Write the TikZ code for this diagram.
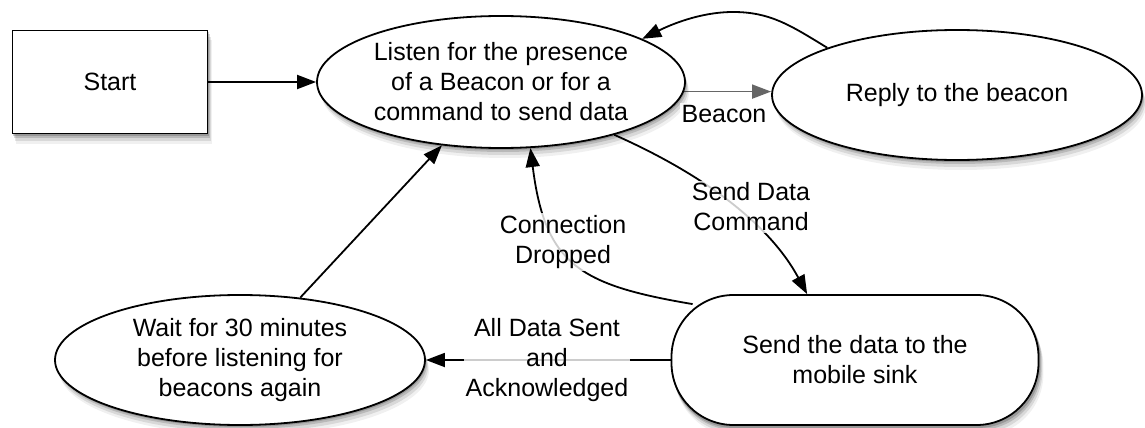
\documentclass[tikz,border=0pt]{standalone}
\usepackage{fontspec}
\setmainfont{Liberation Sans}
\usetikzlibrary{shapes.geometric,arrows.meta,calc}
\pgfdeclarelayer{background}
\pgfdeclarelayer{shadowlayer}
\pgfsetlayers{background,shadowlayer,main}
\begin{document}
\begin{tikzpicture}[x=1pt,y=-1pt,
  every node/.style={font=\fontsize{25}{30}\selectfont, align=center},
  statebox/.style={draw, line width=1.8pt, fill=white, inner sep=0pt},
  oval/.style={statebox, ellipse},
  startbox/.style={statebox, rectangle, minimum width=195pt, minimum height=103pt},
  pill/.style={statebox, rectangle, rounded corners=62pt, minimum width=367pt, minimum height=130pt},
  conn/.style={line width=1.8pt, -{Triangle[length=19pt,width=14pt]}},
  lbl/.style={fill=white, fill opacity=0.8, text opacity=1, inner sep=2pt}
]
\useasboundingbox (0,0) rectangle (1145,428);

\node[startbox] (start) at (110,82) {Start};
\node[oval, minimum width=368pt, minimum height=132pt] (listen) at (501,82)
  {Listen for the presence\\of a Beacon or for a\\command to send data};
\node[oval, minimum width=370pt, minimum height=130pt] (reply) at (957,95)
  {Reply to the beacon};
\node[oval, minimum width=370pt, minimum height=130pt] (wait) at (240,360)
  {Wait for 30 minutes\\before listening for\\beacons again};
\node[pill] (send) at (855,360) {Send the data to the\\mobile sink};

\node[lbl] (lbeacon) at (724,114) {Beacon};
\node[lbl] (lsend) at (751,207) {Send Data\\Command};
\node[lbl] (ldrop) at (563,242) {Connection\\Dropped};
\node[lbl] (lall) at (547,360) {All Data Sent\\and\\Acknowledged};

% soft drop shadows
\begin{pgfonlayer}{shadowlayer}
\foreach \dx/\dy/\op in {1/2/0.18, 2/4/0.14, 3/7/0.10, 4/10/0.06} {
  \fill[black, opacity=\op] ($(start.north west)+(\dx,\dy)$) rectangle ($(start.south east)+(\dx,\dy)$);
  \fill[black, opacity=\op] ($(listen.center)+(\dx,\dy)$) ellipse [x radius=184, y radius=66];
  \fill[black, opacity=\op] ($(reply.center)+(\dx,\dy)$) ellipse [x radius=185, y radius=65];
  \fill[black, opacity=\op] ($(wait.center)+(\dx,\dy)$) ellipse [x radius=185, y radius=65];
  \fill[black, opacity=\op, rounded corners=62pt] ($(send.north west)+(\dx,\dy)$) rectangle ($(send.south east)+(\dx,\dy)$);
}
\end{pgfonlayer}

\begin{pgfonlayer}{background}
\draw[conn] (start.east) -- (listen.west);
\draw[conn, draw=black!60, fill=black!60] (listen.-3) -- (listen.-3 -| reply.west);
\draw[conn] (reply.160) .. controls (790,25) and (770,12) .. (733,12)
  .. controls (700,12) and (670,25) .. (listen.17);
\draw[conn] (listen.-25) .. controls (705,175) and (770,225) .. (send.126);
\draw[conn] ($(send.north west)+(22,10)$) .. controls (580,285) and (545,265) .. (listen.-66);
\draw[conn] (send.west) -- (wait.east);
\draw[conn] (wait.46) -- (listen.-133);
\end{pgfonlayer}
\end{tikzpicture}
\end{document}
